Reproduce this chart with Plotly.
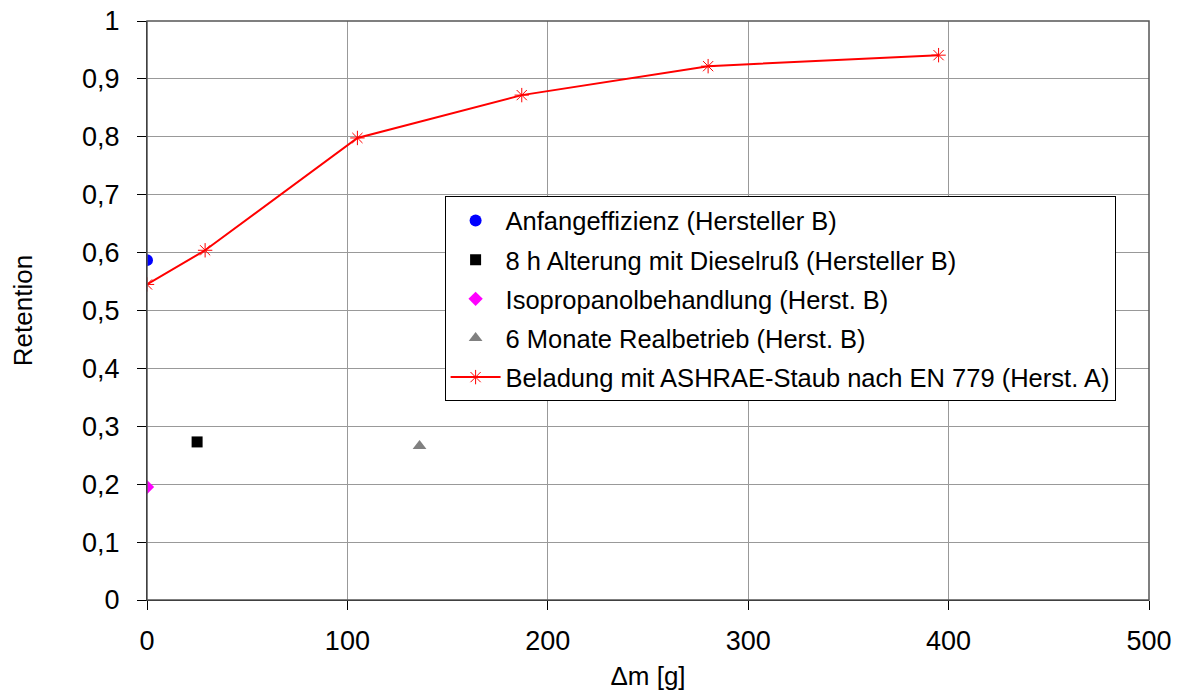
import plotly.graph_objects as go

# data
anfang_x = [0]
anfang_y = [0.587]
diesel_x = [25]
diesel_y = [0.273]
iso_x = [0]
iso_y = [0.195]
real_x = [136]
real_y = [0.266]
ashrae_x = [0, 29, 105, 187, 280, 395]
ashrae_y = [0.545, 0.604, 0.798, 0.872, 0.922, 0.941]

y_ticks = [0, 0.1, 0.2, 0.3, 0.4, 0.5, 0.6, 0.7, 0.8, 0.9, 1]
y_labels = ["0", "0,1", "0,2", "0,3", "0,4", "0,5", "0,6", "0,7", "0,8", "0,9", "1"]

fig = go.Figure()
fig.add_trace(go.Scatter(x=anfang_x, y=anfang_y, mode="markers", legendgroup="a",
                         name="Anfangeffizienz (Hersteller B)",
                         marker=dict(symbol="circle", color="#0000ff", size=12)))
fig.add_trace(go.Scatter(x=diesel_x, y=diesel_y, mode="markers", legendgroup="b",
                         name="8 h Alterung mit Dieselruß (Hersteller B)",
                         marker=dict(symbol="square", color="#000000", size=11)))
fig.add_trace(go.Scatter(x=iso_x, y=iso_y, mode="markers", legendgroup="c",
                         name="Isopropanolbehandlung (Herst. B)",
                         marker=dict(symbol="diamond", color="#ff00ff", size=11)))
fig.add_trace(go.Scatter(x=real_x, y=real_y, mode="markers", legendgroup="d",
                         name="6 Monate Realbetrieb (Herst. B)",
                         marker=dict(symbol="triangle-up", color="#808080", size=12)))
fig.add_trace(go.Scatter(x=ashrae_x, y=ashrae_y, mode="lines+markers", legendgroup="e",
                         name="Beladung mit ASHRAE-Staub nach EN 779 (Herst. A)",
                         line=dict(color="#ff0000", width=2),
                         marker=dict(symbol="asterisk-open", color="#ff0000", size=12,
                                     line=dict(color="#ff0000", width=1))))

font = "Liberation Sans, Arial, sans-serif"
# the page body adds 8px around the figure, so the figure is 16px smaller
fig.update_layout(
    width=1166, height=683,
    margin=dict(l=139, r=25, t=13, b=91, autoexpand=False),
    paper_bgcolor="white", plot_bgcolor="white",
    font=dict(family=font, size=26, color="black"),
    showlegend=True,
    legend=dict(x=0.297, y=0.697, xanchor="left", yanchor="top",
                bgcolor="white", bordercolor="black", borderwidth=1,
                font=dict(size=25.5), tracegroupgap=3, itemwidth=50),
    xaxis=dict(range=[0, 500], dtick=100, showgrid=True, gridcolor="#999999",
               gridwidth=1, zeroline=False, showline=True, linecolor="black",
               linewidth=1, ticks="outside", ticklen=9, tickcolor="black",
               ticklabelstandoff=8, automargin=False, ticklabeloverflow="allow",
               title=dict(text="Δm [g]", standoff=23, font=dict(size=26)),
               tickfont=dict(size=27)),
    yaxis=dict(range=[0, 1], tickvals=y_ticks, ticktext=y_labels, showgrid=True,
               gridcolor="#999999", gridwidth=1, zeroline=False, showline=True,
               linecolor="black", linewidth=1, ticks="outside", ticklen=9,
               tickcolor="black", ticklabelstandoff=12, automargin=False,
               ticklabeloverflow="allow",
               title=dict(text="Retention", standoff=43, font=dict(size=26)),
               tickfont=dict(size=27)),
)
fig.add_shape(type="rect", xref="paper", yref="paper", x0=0, y0=0, x1=1, y1=1,
              line=dict(color="#555555", width=1.5), layer="above")

fig.write_html("out.html")
